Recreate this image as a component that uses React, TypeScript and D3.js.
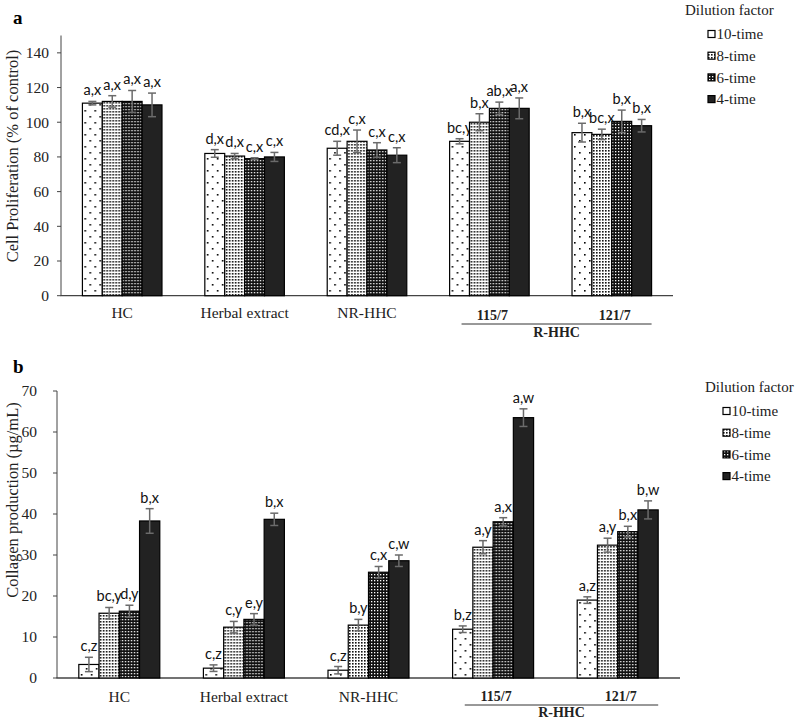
import React from 'react';
import * as d3 from 'd3';

const groups = ['HC', 'Herbal extract', 'NR-HHC', '115/7', '121/7'];
const dilutions = ['10-time', '8-time', '6-time', '4-time'];

// panel a: cell proliferation (% of control)
const prolif10 = [111, 82, 85, 89, 94];
const prolif8 = [112, 80.5, 89, 100, 93];
const prolif6 = [112, 79, 84, 108, 100.5];
const prolif4 = [110, 80, 81, 108, 98];
const prolifErr10 = [1, 2.2, 4, 1.5, 5.4];
const prolifErr8 = [3.3, 1.5, 6.5, 4.9, 3];
const prolifErr6 = [6.3, 0.5, 4.2, 3.6, 6.5];
const prolifErr4 = [6.8, 2.6, 4.3, 6, 3.6];
const prolifLab10 = ['a,x', 'd,x', 'cd,x', 'bc,y', 'b,x'];
const prolifLab8 = ['a,x', 'd,x', 'c,x', 'b,x', 'bc,x'];
const prolifLab6 = ['a,x', 'c,x', 'c,x', 'ab,x', 'b,x'];
const prolifLab4 = ['a,x', 'c,x', 'c,x', 'a,x', 'b,x'];
const prolifTicks = [0, 20, 40, 60, 80, 100, 120, 140];

// panel b: collagen production (µg/mL)
const coll10 = [3.3, 2.4, 1.9, 11.9, 19];
const coll8 = [15.8, 12.4, 12.9, 31.9, 32.4];
const coll6 = [16.3, 14.3, 25.8, 38.1, 35.7];
const coll4 = [38.3, 38.7, 28.6, 63.5, 41];
const collErr10 = [1.75, 0.8, 0.9, 0.8, 0.8];
const collErr8 = [1.4, 1.4, 1.4, 1.6, 1.7];
const collErr6 = [1.45, 1.4, 1.4, 1.0, 1.3];
const collErr4 = [3, 1.5, 1.4, 2.15, 2.2];
const collLab10 = ['c,z', 'c,z', 'c,z', 'b,z', 'a,z'];
const collLab8 = ['bc,y', 'c,y', 'b,y', 'a,y', 'a,y'];
const collLab6 = ['d,y', 'e,y', 'c,x', 'a,x', 'b,x'];
const collLab4 = ['b,x', 'b,x', 'c,w', 'a,w', 'b,w'];
const collTicks = [0, 10, 20, 30, 40, 50, 60, 70];

const fills = ['url(#p10)', 'url(#p8)', 'url(#p6)', '#222'];
const serif = '"Liberation Serif", "Times New Roman", serif';
const sans = 'Lato, "Open Sans", sans-serif';

interface PanelProps {
  letter: string;
  letterY: number;
  title: string;
  titleY: number;
  values: number[][];
  errors: number[][];
  labels: string[][];
  ticks: number[];
  yMax: number;
  x0: number; x1: number; y0: number; y1: number;
  tickGap: number;
  catY: number;
  boldY: number; lineY: number; groupY: number;
  legendX: number; legendY: number; swatchX: number;
}

const Panel: React.FC<PanelProps> = (p) => {
  const x = d3.scaleBand().domain(groups).range([p.x0, p.x1]).paddingInner(0.35).paddingOuter(0.175);
  const inner = d3.scaleBand().domain(dilutions).range([0, x.bandwidth()]);
  const y = d3.scaleLinear().domain([0, p.yMax]).range([p.y0, p.y1]);
  const bw = inner.bandwidth();

  const lineA = (x('115/7') as number) + x.bandwidth() * 0.15;
  const lineB = (x('121/7') as number) + x.bandwidth() * 1.0;

  return (
    <g>
      <text x={13} y={p.letterY} fontFamily={serif} fontWeight="bold" fontSize={19}>{p.letter}</text>

      {/* axes */}
      <line x1={p.x0} x2={p.x0} y1={p.y0} y2={p.y1} stroke="#444" strokeWidth={1} />
      <line x1={p.x0 - 0.5} x2={p.x1} y1={p.y0} y2={p.y0} stroke="#444" strokeWidth={1.3} />
      {p.ticks.map((t) => (
        <g key={t}>
          <line x1={p.x0 - 4} x2={p.x0} y1={y(t)} y2={y(t)} stroke="#444" />
          <text x={p.x0 - p.tickGap} y={y(t)} dy="0.35em" textAnchor="end" fontFamily={serif} fontSize={15.5} fill="#222">{t}</text>
        </g>
      ))}
      <text transform={`translate(18,${p.titleY}) rotate(-90)`} textAnchor="middle" fontFamily={serif} fontSize={16.5} fill="#222">{p.title}</text>

      {/* bars */}
      {groups.map((g, gi) => (
        <g key={g} transform={`translate(${x(g)},0)`}>
          {dilutions.map((d, di) => {
            const v = p.values[di][gi];
            const e = p.errors[di][gi];
            const bx = inner(d) as number;
            const cx = bx + bw / 2;
            return (
              <g key={d}>
                <rect x={bx} y={y(v)} width={bw} height={p.y0 - y(v)} fill={fills[di]} stroke="#000" strokeWidth={1.2} />
                <g stroke="#6b6b6b" strokeWidth={1.5}>
                  <line x1={cx} x2={cx} y1={y(v + e)} y2={y(v - e)} />
                  <line x1={cx - 4} x2={cx + 4} y1={y(v + e)} y2={y(v + e)} />
                  <line x1={cx - 4} x2={cx + 4} y1={y(v - e)} y2={y(v - e)} />
                </g>
                <text x={cx} y={y(v + e) - 6} textAnchor="middle" fontFamily={sans} fontSize={14.5} fill="#111">{p.labels[di][gi]}</text>
              </g>
            );
          })}
        </g>
      ))}

      {/* category labels */}
      {groups.map((g, gi) => {
        const cx = (x(g) as number) + x.bandwidth() / 2;
        const bold = gi >= 3;
        return (
          <text key={g} x={cx + (bold ? 3 : 0)} y={bold ? p.boldY : p.catY} textAnchor="middle" fontFamily={serif}
            fontSize={bold ? 14 : 15.5} fontWeight={bold ? 'bold' : 'normal'} fill="#222">{g}</text>
        );
      })}
      <line x1={lineA} x2={lineB} y1={p.lineY} y2={p.lineY} stroke="#333" strokeWidth={1} />
      <text x={(lineA + lineB) / 2} y={p.groupY} textAnchor="middle" fontFamily={serif} fontSize={14} fontWeight="bold" fill="#222">R-HHC</text>

      {/* legend */}
      <text x={p.legendX} y={p.legendY} fontFamily={serif} fontSize={15} fill="#222">Dilution factor</text>
      {dilutions.map((d, di) => {
        const cy = p.legendY + 19 + di * 21.7;
        return (
          <g key={d}>
            <rect x={p.swatchX} y={cy - 3.5} width={7} height={7} fill={di === 0 ? '#fff' : fills[di]} stroke="#000" strokeWidth={1.2} />
            <text x={p.swatchX + 8.5} y={cy} dy="0.35em" fontFamily={serif} fontSize={15} fill="#222">{d}</text>
          </g>
        );
      })}
    </g>
  );
};

export default function App() {
  return (
    <div>
      <style>{'body{margin:0}'}</style>
      <svg width={796} height={721} style={{ display: 'block', background: '#fff' }}>
        <defs>
          <pattern id="p10" width={10} height={12} patternUnits="userSpaceOnUse">
            <rect width={10} height={12} fill="#fff" />
            <rect x={2} y={2} width={1.6} height={1.6} fill="#000" />
            <rect x={7} y={8} width={1.6} height={1.6} fill="#000" />
          </pattern>
          <pattern id="p8" width={3} height={3} patternUnits="userSpaceOnUse">
            <rect width={3} height={3} fill="#fff" />
            <rect x={0} y={0} width={1.6} height={1.6} fill="#111" />
          </pattern>
          <pattern id="p6" width={3} height={3} patternUnits="userSpaceOnUse">
            <rect width={3} height={3} fill="#111" />
            <rect x={1} y={1} width={1.3} height={1.3} fill="#fff" />
          </pattern>
        </defs>
        <Panel letter="a" letterY={24} title="Cell Proliferation (% of control)" titleY={156}
          values={[prolif10, prolif8, prolif6, prolif4]}
          errors={[prolifErr10, prolifErr8, prolifErr6, prolifErr4]}
          labels={[prolifLab10, prolifLab8, prolifLab6, prolifLab4]}
          ticks={prolifTicks} yMax={150} x0={61} x1={673} y0={295.7} y1={35.5} tickGap={12}
          catY={318} boldY={320} lineY={324} groupY={337}
          legendX={685} legendY={15} swatchX={708} />
        <Panel letter="b" letterY={373} title="Collagen production (µg/mL)" titleY={500}
          values={[coll10, coll8, coll6, coll4]}
          errors={[collErr10, collErr8, collErr6, collErr4]}
          labels={[collLab10, collLab8, collLab6, collLab4]}
          ticks={collTicks} yMax={70} x0={57} x1={680} y0={678} y1={391} tickGap={20}
          catY={702} boldY={701} lineY={705} groupY={717}
          legendX={705} legendY={392} swatchX={723} />
      </svg>
    </div>
  );
}
